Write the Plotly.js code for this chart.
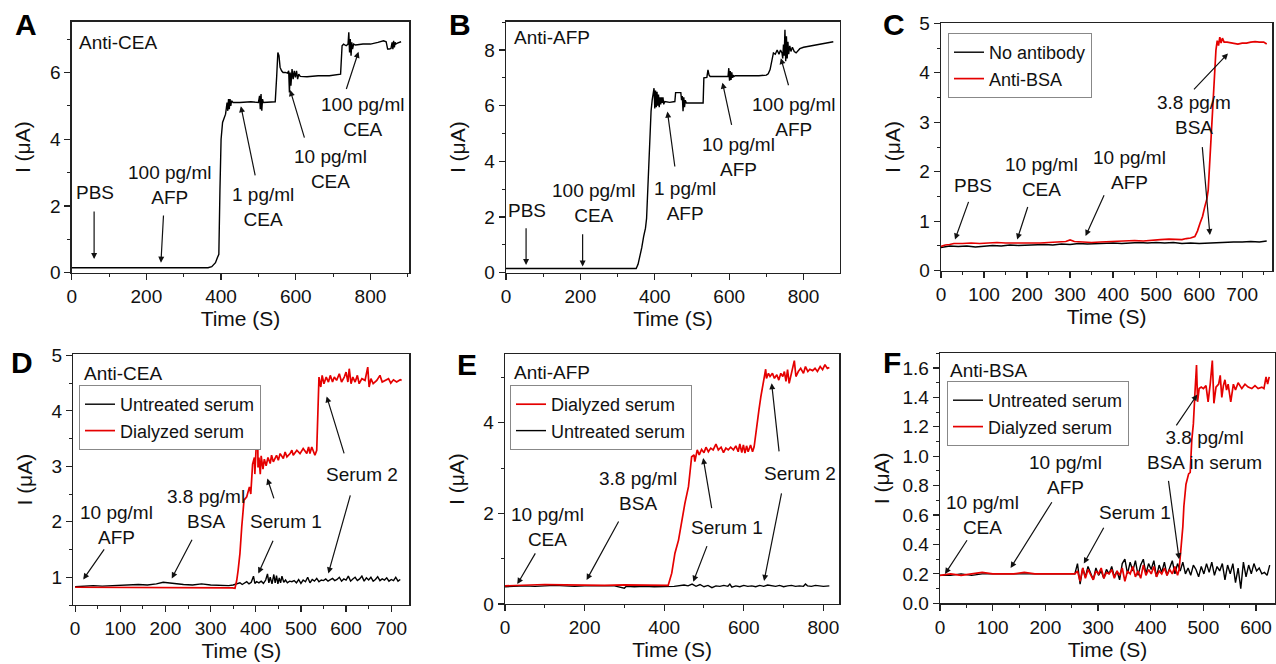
<!DOCTYPE html>
<html><head><meta charset="utf-8">
<script src="https://cdn.plot.ly/plotly-3.0.1.min.js"></script>
<style>html,body{margin:0;padding:0;background:#fff}#chart{width:1276px;height:664px}</style>
</head><body><div id="chart"></div>
<script>
// ---------- Panel A: Anti-CEA ----------
const aTime = [0,100,200,300,365,375,385,390,394,397,400,404,408,412,416,418,420,422,424,426,428,432,450,480,500,503,505,507,509,511,513,520,545,549,552,555,558,562,566,572,578,581,583,585,587,590,593,596,599,602,605,608,612,630,660,690,720,724,728,735,740,742,744,746,748,750,752,755,760,780,800,820,835,842,846,850,855,858,860,862,864,866,868,872,876,882];
const aCurrent = [0.15,0.15,0.15,0.15,0.15,0.18,0.3,0.45,0.55,2.5,4.0,4.5,4.6,4.75,5.1,4.85,5.2,4.9,5.2,5.0,5.15,5.1,5.1,5.12,5.1,5.3,4.9,5.35,4.85,5.2,5.1,5.1,5.12,5.9,6.6,6.5,6.15,6.05,6.0,6.0,5.98,6.05,5.4,6.0,5.6,6.1,5.8,6.05,5.85,6.05,5.8,5.95,5.88,5.87,5.9,5.9,5.95,6.8,6.85,6.8,6.85,7.2,6.6,7.0,6.5,6.9,6.7,6.85,6.82,6.85,6.85,6.9,6.95,6.92,6.7,6.7,6.72,6.9,6.7,6.95,6.75,6.9,6.85,6.88,6.9,6.92];

// ---------- Panel B: Anti-AFP ----------
const bTime = [0,100,200,300,350,355,360,365,370,375,378,381,384,387,390,393,396,398,400,402,404,406,408,410,412,414,416,418,420,422,424,427,440,454,456,470,472,474,476,478,480,482,485,500,520,530,532,540,543,546,549,555,570,590,597,599,601,603,605,607,609,611,613,616,640,680,700,705,710,715,719,724,729,734,738,742,744,746,748,750,752,754,756,758,760,763,766,770,775,780,790,800,820,840,860,880];
const bCurrent = [0.15,0.15,0.15,0.15,0.15,0.3,0.55,0.9,1.3,1.6,1.95,3.0,4.2,5.3,5.8,6.2,6.4,6.63,5.9,6.55,5.95,6.5,6.0,6.4,5.95,6.3,6.05,6.3,6.1,6.3,6.05,6.15,6.12,6.15,6.47,6.47,6.2,6.35,5.8,6.3,5.95,6.2,6.1,6.1,6.1,6.1,7.0,7.02,7.29,7.1,7.05,7.05,7.05,7.05,7.05,7.35,6.9,7.25,6.93,7.2,7.0,7.1,7.05,7.08,7.07,7.08,7.1,7.15,7.3,7.6,7.9,7.85,8.0,7.85,8.0,7.9,7.7,8.2,7.8,8.73,7.6,8.5,7.7,8.3,7.85,8.15,7.95,8.1,7.95,7.9,8.05,8.1,8.15,8.2,8.25,8.3];

// ---------- Panel C ----------
const cNoAbTime = [0,20,40,60,80,100,120,140,160,180,200,220,240,260,280,300,320,340,360,380,400,420,440,460,480,500,520,540,560,580,600,620,640,660,680,700,720,740,757];
const cNoAbCurrent = [0.47,0.5,0.49,0.5,0.48,0.5,0.51,0.5,0.52,0.51,0.52,0.52,0.53,0.52,0.54,0.53,0.55,0.54,0.55,0.55,0.56,0.55,0.56,0.57,0.56,0.57,0.56,0.57,0.55,0.56,0.55,0.56,0.57,0.57,0.58,0.58,0.59,0.58,0.6];
const cBsaTime = [0,10,20,30,50,70,90,110,130,150,170,190,210,230,250,270,290,300,310,330,350,370,390,410,430,450,470,490,510,530,550,560,570,580,590,596,602,608,613,618,621,625,629,634,639,642,645,648,651,654,658,665,680,690,700,710,720,730,740,750,757];
const cBsaCurrent = [0.49,0.52,0.53,0.55,0.55,0.56,0.55,0.56,0.57,0.56,0.56,0.55,0.56,0.56,0.57,0.58,0.59,0.62,0.59,0.58,0.57,0.58,0.59,0.6,0.6,0.61,0.6,0.62,0.63,0.64,0.64,0.63,0.65,0.66,0.69,0.8,0.96,1.1,1.29,1.45,1.63,2.3,3.04,3.8,4.46,4.65,4.55,4.72,4.6,4.7,4.62,4.62,4.6,4.58,4.6,4.6,4.62,4.63,4.62,4.62,4.58];

// ---------- Panel D: Anti-CEA in serum ----------
const dUntreatedTime = [0,20,40,60,80,100,120,140,160,180,195,205,220,240,260,280,300,320,340,350,360,365,370,375,380,385,390,395,398,402,407,412,417,422,426,429,432,436,440,443,446,449,452,455,458,462,466,470,475,480,485,490,495,500,505,510,515,520,525,530,535,540,545,550,555,560,565,570,575,580,585,590,595,600,605,610,615,620,625,630,635,640,645,650,655,660,665,670,675,680,685,690,695,700,705,710,715,720];
const dUntreatedCurrent = [0.83,0.84,0.85,0.84,0.85,0.86,0.87,0.87,0.86,0.88,0.91,0.9,0.88,0.87,0.86,0.88,0.86,0.85,0.85,0.86,0.88,0.9,0.87,0.9,0.92,0.88,0.91,1.02,0.89,0.92,0.9,0.93,0.89,0.95,1.06,0.9,1.0,0.88,1.05,0.9,1.03,0.88,0.99,0.9,1.02,0.91,0.95,0.9,0.93,0.92,0.94,0.9,0.96,0.89,0.95,0.92,1.0,0.9,0.96,0.93,0.98,0.92,0.95,0.94,0.97,0.93,0.96,0.98,0.94,0.96,1.0,0.93,0.97,0.95,1.02,0.93,0.97,1.0,0.94,0.97,1.02,0.93,0.99,0.95,1.0,0.93,0.96,1.01,0.94,0.97,0.95,0.99,0.93,0.96,0.94,1.0,0.93,0.96];
const dDialyzedTime = [0,50,100,150,200,250,300,340,348,354,358,361,365,369,374,380,386,389,393,397,398,402,404,405,407,410,412,416,419,423,427,432,435,439,446,450,454,461,465,469,476,480,483,491,498,505,513,517,520,524,531,535,537,540,544,547,551,556,561,565,570,574,579,585,590,596,600,604,607,611,615,620,625,629,635,642,648,651,655,660,668,675,680,686,694,699,705,712,720,723];
const dDialyzedCurrent = [0.82,0.82,0.82,0.82,0.82,0.81,0.81,0.82,0.81,0.8,0.95,1.13,1.43,1.91,2.39,2.45,2.63,2.5,3.04,3.16,2.86,3.52,3.9,2.98,3.16,2.86,3.19,2.95,3.13,3.01,3.16,3.05,3.2,3.08,3.2,3.11,3.23,3.14,3.26,3.17,3.23,3.29,3.2,3.29,3.23,3.32,3.23,3.35,3.23,3.35,3.2,3.29,4.07,4.61,4.43,4.64,4.49,4.61,4.52,4.64,4.52,4.61,4.55,4.67,4.52,4.61,4.7,4.52,4.76,4.49,4.61,4.52,4.64,4.49,4.58,4.55,4.79,4.43,4.58,4.49,4.55,4.64,4.52,4.55,4.58,4.5,4.56,4.52,4.56,4.55];

// ---------- Panel E: Anti-AFP in serum ----------
const eDialyzedTime = [0,50,100,150,200,250,300,350,400,410,419,427,436,444,452,461,465,469,475,477,483,488,494,500,505,511,517,523,530,536,543,549,555,561,567,574,580,586,590,595,599,603,607,611,617,622,626,632,638,643,647,651,655,657,662,666,672,677,683,688,693,698,702,706,710,714,720,727,731,737,743,750,755,761,766,773,779,785,792,798,804,810,815];
const eDialyzedCurrent = [0.4,0.41,0.43,0.42,0.41,0.41,0.42,0.41,0.41,0.41,0.68,1.12,1.41,1.85,2.22,2.59,2.88,3.25,3.29,3.14,3.4,3.29,3.41,3.34,3.46,3.36,3.44,3.4,3.53,3.4,3.46,3.34,3.44,3.4,3.46,3.4,3.49,3.36,3.53,3.34,3.51,3.33,3.49,3.36,3.51,3.36,3.47,3.92,4.28,4.58,4.8,5.02,5.18,4.98,5.09,5.02,5.09,4.98,5.06,4.94,5.09,5.02,5.13,4.91,5.17,4.87,5.09,5.37,5.02,5.13,5.2,5.09,5.24,5.13,5.18,5.15,5.2,5.13,5.24,5.17,5.28,5.2,5.22];
const eUntreatedTime = [0,25,50,75,100,125,150,175,200,225,250,275,300,305,325,350,375,400,425,450,460,470,480,490,500,510,520,530,540,550,560,565,570,580,590,600,610,620,630,640,650,660,670,680,690,700,710,720,730,740,750,755,760,770,780,790,800,815];
const eUntreatedCurrent = [0.38,0.39,0.4,0.39,0.4,0.41,0.4,0.39,0.4,0.4,0.39,0.4,0.35,0.39,0.38,0.39,0.38,0.38,0.39,0.42,0.4,0.44,0.39,0.43,0.38,0.41,0.36,0.4,0.39,0.41,0.39,0.44,0.37,0.4,0.38,0.41,0.39,0.4,0.38,0.41,0.39,0.42,0.4,0.39,0.41,0.38,0.4,0.41,0.39,0.4,0.39,0.44,0.4,0.39,0.41,0.4,0.39,0.4];

// ---------- Panel F: Anti-BSA in serum ----------
const fUntreatedTime = [0,20,40,60,80,100,120,140,160,180,200,220,240,256,261,266,271,276,281,286,291,296,301,306,311,316,321,326,331,336,341,346,351,356,361,366,371,376,381,386,391,396,401,406,411,416,421,426,431,436,441,446,451,456,461,466,471,476,481,486,491,496,501,506,511,516,521,526,531,536,541,546,551,556,561,566,571,576,581,586,591,596,601,606,611,616,621,626];
const fUntreatedCurrent = [0.19,0.19,0.2,0.19,0.2,0.2,0.2,0.2,0.2,0.2,0.2,0.2,0.2,0.2,0.27,0.13,0.24,0.18,0.25,0.2,0.16,0.24,0.19,0.22,0.17,0.23,0.2,0.25,0.18,0.22,0.16,0.27,0.3,0.2,0.28,0.22,0.29,0.19,0.26,0.3,0.2,0.27,0.23,0.29,0.18,0.26,0.21,0.28,0.19,0.24,0.29,0.2,0.27,0.22,0.28,0.2,0.24,0.19,0.26,0.23,0.18,0.25,0.2,0.27,0.21,0.28,0.19,0.25,0.22,0.27,0.16,0.26,0.2,0.27,0.14,0.24,0.1,0.28,0.18,0.26,0.2,0.27,0.22,0.24,0.2,0.21,0.19,0.26];
const fDialyzedTime = [0,20,40,60,80,100,120,140,160,180,200,220,240,256,261,266,271,276,281,286,291,296,301,306,311,316,321,326,331,336,341,346,351,356,361,366,371,376,381,386,391,396,401,406,411,416,421,426,431,436,441,446,451,454,457,461,463,467,472,475,478,481,484,487,489,492,496,500,505,509,513,517,520,524,529,532,535,538,541,544,547,552,557,561,566,573,579,585,592,598,604,611,615,619,622,625];
const fDialyzedCurrent = [0.19,0.2,0.19,0.2,0.21,0.2,0.2,0.2,0.21,0.2,0.2,0.2,0.2,0.2,0.22,0.15,0.24,0.17,0.23,0.19,0.16,0.22,0.2,0.24,0.17,0.21,0.2,0.23,0.17,0.22,0.19,0.24,0.15,0.22,0.2,0.25,0.18,0.22,0.17,0.26,0.19,0.23,0.2,0.25,0.18,0.22,0.2,0.24,0.19,0.23,0.2,0.25,0.19,0.23,0.34,0.52,0.66,0.81,0.88,0.89,1.11,1.22,1.43,1.62,1.37,1.46,1.47,1.46,1.48,1.37,1.49,1.65,1.36,1.47,1.49,1.55,1.40,1.48,1.52,1.45,1.49,1.37,1.49,1.45,1.50,1.46,1.49,1.47,1.46,1.48,1.46,1.47,1.46,1.54,1.49,1.54];

// ---------- labels ----------
const legendNames = {noAb:'No antibody', antiBsa:'Anti-BSA', untreated:'Untreated serum', dialyzed:'Dialyzed serum'};
const panelLetters = ['A','B','C','D','E','F'];

// ---------- layout helpers ----------
const W = 1276, H = 664;
const FONT = 'Liberation Sans, Arial, Helvetica, sans-serif';
const RED = '#e50000', BLACK = '#000000';

function xAxis(px0, px1, range, dtick, minorDtick, anchor){
  return {domain:[px0/W, px1/W], range:range, anchor:anchor, tick0:0, dtick:dtick,
    ticks:'outside', ticklen:6, tickwidth:1.2, tickcolor:'#222',
    minor:{dtick:minorDtick, tick0:0, ticks:'outside', ticklen:3, tickwidth:1, tickcolor:'#222'},
    showline:true, mirror:true, linecolor:'#222', linewidth:1.4, showgrid:false, zeroline:false,
    tickfont:{size:19, color:'#111', family:FONT},
    title:{text:'Time (S)', font:{size:21, color:'#111', family:FONT}, standoff:5}};
}
function yAxis(py0, py1, range, dtick, minorDtick, anchor, fmt, standoff){
  return {domain:[1-py1/H, 1-py0/H], range:range, anchor:anchor, tick0:0, dtick:dtick,
    tickformat:fmt||'',
    ticks:'outside', ticklen:6, tickwidth:1.2, tickcolor:'#222',
    minor:{dtick:minorDtick, tick0:0, ticks:'outside', ticklen:3, tickwidth:1, tickcolor:'#222'},
    showline:true, mirror:true, linecolor:'#222', linewidth:1.4, showgrid:false, zeroline:false,
    tickfont:{size:19, color:'#111', family:FONT},
    title:{text:'I (μA)', font:{size:21, color:'#111', family:FONT}, standoff:standoff}};
}
function line(x, y, xa, ya, color, name, legend, show, rank){
  return {type:'scatter', mode:'lines', x:x, y:y, xaxis:xa, yaxis:ya, name:name,
    line:{color:color, width:color===RED?1.7:1.4}, showlegend:!!show, legend:legend, legendrank:rank||1000, hoverinfo:'skip'};
}

const traces = [
  line(aTime, aCurrent, 'x', 'y', BLACK, 'Anti-CEA', 'legend', false),
  line(bTime, bCurrent, 'x2', 'y2', BLACK, 'Anti-AFP', 'legend', false),
  line(cNoAbTime, cNoAbCurrent, 'x3', 'y3', BLACK, legendNames.noAb, 'legend', true, 1),
  line(cBsaTime, cBsaCurrent, 'x3', 'y3', RED, legendNames.antiBsa, 'legend', true, 2),
  line(dUntreatedTime, dUntreatedCurrent, 'x4', 'y4', BLACK, legendNames.untreated, 'legend2', true, 1),
  line(dDialyzedTime, dDialyzedCurrent, 'x4', 'y4', RED, legendNames.dialyzed, 'legend2', true, 2),
  line(eUntreatedTime, eUntreatedCurrent, 'x5', 'y5', BLACK, legendNames.untreated, 'legend3', true, 2),
  line(eDialyzedTime, eDialyzedCurrent, 'x5', 'y5', RED, legendNames.dialyzed, 'legend3', true, 1),
  line(fUntreatedTime, fUntreatedCurrent, 'x6', 'y6', BLACK, legendNames.untreated, 'legend4', true, 1),
  line(fDialyzedTime, fDialyzedCurrent, 'x6', 'y6', RED, legendNames.dialyzed, 'legend4', true, 2)
];

// text labels: [axis suffix, text, x, y, xanchor]
const textLabels = [
  ['', 'Anti-CEA', 14, 6.9, 'left'], ['', 'PBS', 62, 2.39], ['', '100 pg/ml<br>AFP', 261, 2.63], ['', '1 pg/ml<br>CEA', 511, 1.97], ['', '10 pg/ml<br>CEA', 692, 3.10], ['', '100 pg/ml<br>CEA', 780, 4.65],
  ['2', 'Anti-AFP', 15, 8.44, 'left'], ['2', 'PBS', 55.7, 2.22], ['2', '100 pg/ml<br>CEA', 234, 2.49], ['2', '1 pg/ml<br>AFP', 481.6, 2.58], ['2', '10 pg/ml<br>AFP', 625, 4.17], ['2', '100 pg/ml<br>AFP', 772, 5.6],
  ['3', 'PBS', 75, 1.73], ['3', '10 pg/ml<br>CEA', 232.5, 1.90], ['3', '10 pg/ml<br>AFP', 438, 2.03], ['3', '3.8 pg/m<br>BSA', 588, 3.15],
  ['4', 'Anti-CEA', 14.6, 4.67, 'left'], ['4', '10 pg/ml<br>AFP', 92, 1.94], ['4', '3.8 pg/ml<br>BSA', 290, 2.23], ['4', 'Serum 1', 467, 2.0], ['4', 'Serum 2', 635, 2.86],
  ['5', 'Anti-AFP', 16.8, 5.1, 'left'], ['5', '10 pg/ml<br>CEA', 106.8, 1.71], ['5', '3.8 pg/ml<br>BSA', 333, 2.49], ['5', 'Serum 1', 558.5, 1.69], ['5', 'Serum 2', 741, 2.89],
  ['6', 'Anti-BSA', 15.8, 1.58, 'left'], ['6', '10 pg/ml<br>CEA', 81.6, 0.60], ['6', '10 pg/ml<br>AFP', 239, 0.87], ['6', 'Serum 1', 370, 0.615], ['6', '3.8 pg/ml<br>BSA in serum', 503, 1.04]
];
// arrows: [axis suffix, headX, headY, tailX, tailY]
const arrows = [
  ['', 60, 0.41, 60, 2.09], ['', 239, 0.3, 247, 1.97], ['', 453, 4.99, 496, 2.66], ['', 585, 5.47, 630, 3.79], ['', 768, 6.62, 728, 5.25],
  ['2', 54, 0.28, 54, 1.9], ['2', 206, 0.22, 206, 1.69], ['2', 434, 5.79, 457, 3.51], ['2', 582, 6.83, 611.5, 5.01], ['2', 739, 7.71, 766, 6.43],
  ['3', 32.5, 0.63, 71, 1.56], ['3', 177, 0.63, 208, 1.46], ['3', 336, 0.70, 386, 1.66], ['3', 667, 4.39, 581, 3.6], ['3', 625, 0.72, 605.6, 2.67],
  ['4', 18, 0.96, 71, 1.58], ['4', 214, 0.98, 265.5, 1.78], ['4', 425.6, 2.78, 446.4, 2.27], ['4', 405.7, 1.07, 444.9, 1.78], ['4', 557, 4.26, 601.4, 3.08], ['4', 560.7, 1.07, 614.7, 2.63],
  ['5', 31, 0.44, 83.7, 1.23], ['5', 205, 0.53, 293, 1.94], ['5', 498, 3.22, 523, 1.93], ['5', 473, 0.49, 515, 1.45], ['5', 670, 4.87, 691, 3.18], ['5', 651, 0.51, 699, 2.63],
  ['6', 9.5, 0.2, 57, 0.46], ['6', 134, 0.24, 218, 0.72], ['6', 273, 0.27, 316.5, 0.55], ['6', 488.5, 1.42, 443, 1.18], ['6', 454, 0.30, 431.6, 0.89]
];
const letterPos = [[26,24],[460,24],[894,24],[22,362],[467,364],[892,362]];

const annotations = [];
textLabels.forEach(t => annotations.push({xref:'x'+t[0], yref:'y'+t[0], x:t[2], y:t[3], text:t[1], showarrow:false,
  xanchor:t[4]||'center', yanchor:'middle', align:'center', font:{size:19, color:'#111', family:FONT}}));
arrows.forEach(a => annotations.push({xref:'x'+a[0], yref:'y'+a[0], x:a[1], y:a[2], axref:'x'+a[0], ayref:'y'+a[0], ax:a[3], ay:a[4],
  text:' ', showarrow:true, arrowhead:2, arrowsize:1, arrowwidth:1.2, arrowcolor:'#111', standoff:0, startstandoff:0}));
panelLetters.forEach((L,i) => annotations.push({xref:'paper', yref:'paper', x:letterPos[i][0]/W, y:1-letterPos[i][1]/H, text:'<b>'+L+'</b>',
  showarrow:false, xanchor:'center', yanchor:'middle', font:{size:30, color:'#000', family:FONT}}));

function legendAt(px, py){
  return {x:px/W, y:1-py/H, xanchor:'left', yanchor:'top', bgcolor:'#fff', bordercolor:'#888', borderwidth:1,
    font:{size:18, color:'#111', family:FONT}, tracegroupgap:0, itemwidth:30, traceorder:'normal'};
}

const layout = {
  width:W, height:H, margin:{l:0, r:0, t:0, b:0}, paper_bgcolor:'#fff', plot_bgcolor:'#fff',
  font:{family:FONT, color:'#111'}, showlegend:true,
  xaxis: xAxis(71.7, 409.3, [0, 904], 200, 100, 'y'),
  yaxis: yAxis(21.7, 272.7, [0, 7.52], 2, 1, 'x', '', 13),
  xaxis2: xAxis(506, 840, [0, 898], 200, 100, 'y2'),
  yaxis2: yAxis(21.7, 272.7, [0, 9.02], 2, 1, 'x2', '', 13),
  xaxis3: xAxis(941, 1272.3, [0, 770], 100, 50, 'y3'),
  yaxis3: yAxis(23.3, 270.7, [0, 5], 1, 0.5, 'x3', '', 13),
  xaxis4: xAxis(73.3, 409.3, [-4, 740], 100, 50, 'y4'),
  yaxis4: yAxis(354.3, 605, [0.5, 5.02], 1, 0.5, 'x4', '', 13),
  xaxis5: xAxis(505, 839.3, [0, 840], 200, 100, 'y5'),
  yaxis5: yAxis(354.3, 604, [0, 5.51], 2, 1, 'x5', '', 13),
  xaxis6: xAxis(940, 1275, [0, 636], 100, 50, 'y6'),
  yaxis6: yAxis(353.3, 603.3, [0, 1.70], 0.2, 0.1, 'x6', '.1f', 7),
  legend: legendAt(948, 33),
  legend2: legendAt(79, 385),
  legend3: legendAt(510, 385),
  legend4: legendAt(947, 381),
  annotations: annotations
};

Plotly.newPlot('chart', traces, layout, {staticPlot:true, displayModeBar:false});
</script>
</body></html>
